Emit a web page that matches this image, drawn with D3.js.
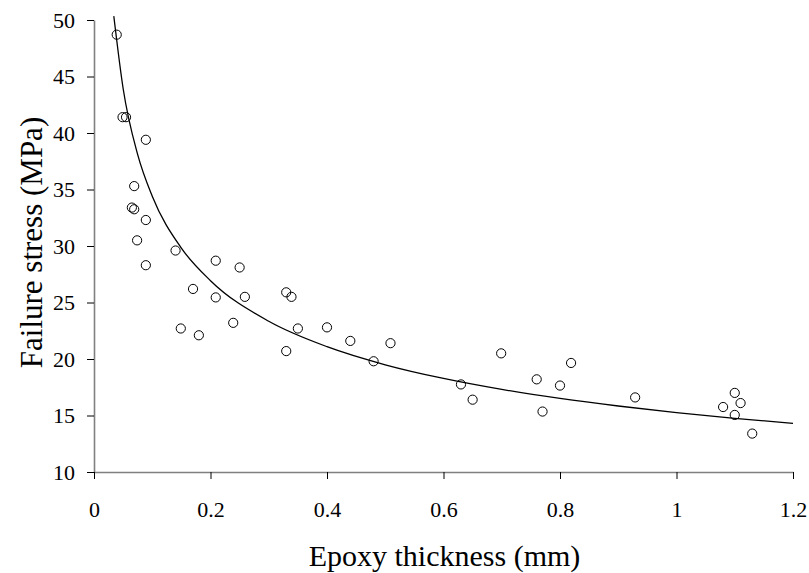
<!DOCTYPE html>
<html>
<head>
<meta charset="utf-8">
<script src="https://cdn.jsdelivr.net/npm/d3@7"></script>
<style>
  html, body { margin: 0; padding: 0; background: #fff; }
</style>
</head>
<body>
<svg id="chart" width="809" height="573"></svg>
<script>
// Measured data: epoxy thickness (mm) vs failure stress (MPa)
const thickness = [0.039, 0.049, 0.055, 0.089, 0.069, 0.065, 0.069, 0.089, 0.074, 0.089,
  0.140, 0.209, 0.250, 0.170, 0.209, 0.259, 0.330, 0.339, 0.149, 0.180,
  0.239, 0.350, 0.330, 0.400, 0.440, 0.480, 0.509, 0.699, 0.630, 0.650,
  0.760, 0.800, 0.819, 0.770, 0.929, 1.080, 1.100, 1.110, 1.100, 1.130];
const stress = [48.7, 41.4, 41.4, 39.4, 35.3, 33.4, 33.25, 32.3, 30.5, 28.3,
  29.6, 28.7, 28.1, 26.2, 25.45, 25.5, 25.9, 25.5, 22.7, 22.1,
  23.2, 22.7, 20.7, 22.8, 21.6, 19.8, 21.4, 20.5, 17.75, 16.4,
  18.2, 17.65, 19.65, 15.35, 16.6, 15.75, 17.0, 16.1, 15.05, 13.4];

// Trend line, points
const trendX = [0.034, 0.05, 0.075, 0.1, 0.15, 0.2, 0.3, 0.4, 0.5, 0.6, 0.7, 0.8, 0.9, 1.0, 1.1, 1.2];
const trendY = [50.34, 43.94, 38.08, 34.40, 29.81, 26.93, 23.34, 21.09, 19.49, 18.28, 17.31, 16.51, 15.84, 15.26, 14.75, 14.31];

const xTicks = [0, 0.2, 0.4, 0.6, 0.8, 1, 1.2];
const yTicks = [10, 15, 20, 25, 30, 35, 40, 45, 50];

const FONT = "'Liberation Serif', 'Times New Roman', Times, serif";
const svg = d3.select("#chart");
const mLeft = 94, mRight = 793, mTop = 20, mBottom = 472;

const x = d3.scaleLinear().domain([0, 1.2]).range([mLeft, mRight]);
const y = d3.scaleLinear().domain([10, 50]).range([mBottom, mTop]);

const axisColor = "#808080";

// Y axis
const yAxis = svg.append("g")
  .attr("transform", `translate(${mLeft},0)`)
  .call(d3.axisLeft(y).tickValues(yTicks).tickSize(7).tickSizeOuter(0).tickPadding(12).tickFormat(d3.format("d")));
yAxis.attr("font-family", FONT).attr("font-size", 22);
yAxis.select(".domain").attr("stroke", axisColor).attr("stroke-width", 1.6);
yAxis.selectAll(".tick line").attr("stroke", "#000").attr("stroke-width", 1);
yAxis.selectAll(".tick text").style("font-family", FONT).style("font-size", "22px").attr("fill", "#000");

// X axis
const xAxis = svg.append("g")
  .attr("transform", `translate(0,${mBottom})`)
  .call(d3.axisBottom(x).tickValues(xTicks).tickSize(7).tickSizeOuter(0).tickPadding(22).tickFormat(d => d3.format("")(d)));
xAxis.attr("font-family", FONT).attr("font-size", 22);
xAxis.select(".domain").attr("stroke", axisColor).attr("stroke-width", 1.6);
xAxis.selectAll(".tick line").attr("stroke", "#000").attr("stroke-width", 1);
xAxis.selectAll(".tick text").style("font-family", FONT).style("font-size", "22px").attr("fill", "#000");

// Trend line
const line = d3.line()
  .x((d, i) => x(trendX[i]))
  .y((d, i) => y(trendY[i]))
  .curve(d3.curveMonotoneX);
svg.append("path")
  .attr("d", line(trendX))
  .attr("fill", "none")
  .attr("stroke", "#000")
  .attr("stroke-width", 1.3);

// Points
svg.append("g").selectAll("circle")
  .data(thickness)
  .join("circle")
  .attr("cx", (d) => x(d))
  .attr("cy", (d, i) => y(stress[i]))
  .attr("r", 4.6)
  .attr("fill", "none")
  .attr("stroke", "#000")
  .attr("stroke-width", 1);

// Axis titles
svg.append("text")
  .attr("x", 444.5)
  .attr("y", 566)
  .attr("text-anchor", "middle")
  .style("font-family", FONT)
  .style("font-size", "30px")
  .text("Epoxy thickness (mm)");

svg.append("text")
  .attr("transform", `translate(42,242.5) rotate(-90)`)
  .attr("text-anchor", "middle")
  .style("font-family", FONT)
  .style("font-size", "31px")
  .text("Failure stress (MPa)");
</script>
</body>
</html>
